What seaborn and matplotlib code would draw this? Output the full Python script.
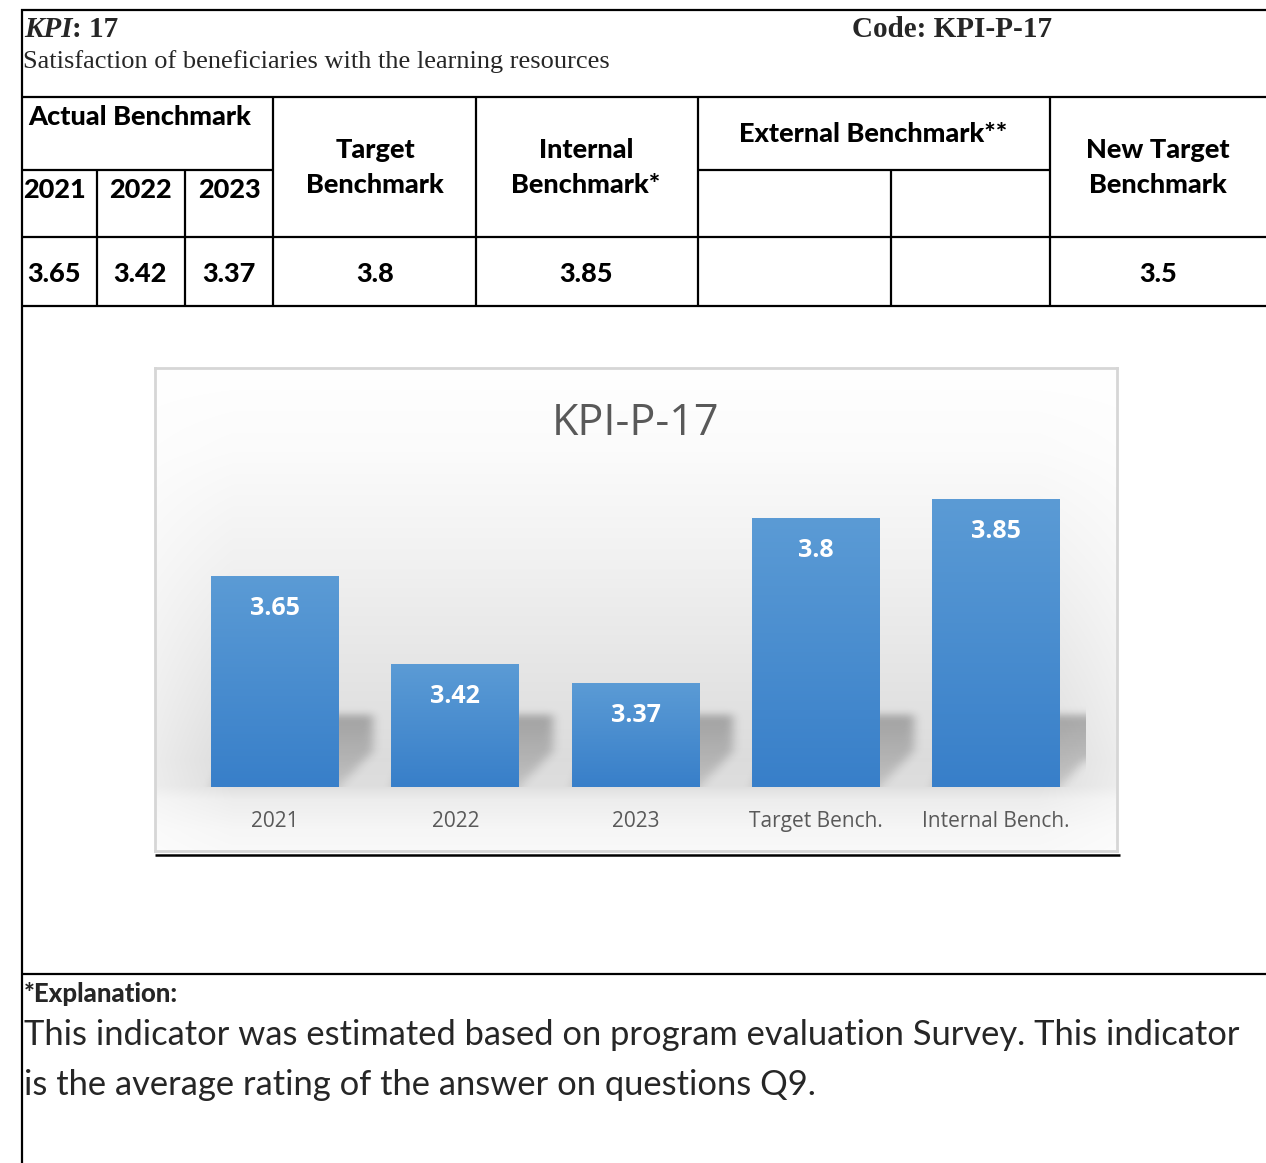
import numpy as np
import pandas as pd
import matplotlib
matplotlib.use("Agg")
import matplotlib.pyplot as plt
import seaborn as sns
from matplotlib.path import Path

# ---------------- data ----------------
categories = ["2021", "2022", "2023", "Target Bench.", "Internal Bench."]
values = [3.65, 3.42, 3.37, 3.8, 3.85]
years = ["2021", "2022", "2023"]
actual_values = [3.65, 3.42, 3.37]
target_benchmark = 3.8
internal_benchmark = 3.85
new_target_benchmark = 3.5
chart_title = "KPI-P-17"
kpi_number = "17"
kpi_code = "Code: KPI-P-17"
kpi_name = "Satisfaction of beneficiaries with the learning resources"
explanation_title = "*Explanation:"
explanation_lines = [
    "This indicator was estimated based on program evaluation Survey. This indicator",
    "is the average rating of the answer on questions Q9.",
]

# ---------------- setup ----------------
W, H = 1266, 1163
DPI = 100
sns.set_theme(style="white")
plt.rcParams["font.family"] = ["Lato", "DejaVu Sans"]
SERIF = ["Liberation Serif", "DejaVu Serif"]
SANS = ["Lato", "DejaVu Sans"]
CHART = ["Open Sans", "DejaVu Sans"]

fig = plt.figure(figsize=(W / DPI, H / DPI), dpi=DPI)
fig.patch.set_facecolor("white")


def fig_rect(x0, y0, x1, y1):
    return [x0 / W, 1 - y1 / H, (x1 - x0) / W, (y1 - y0) / H]


doc = fig.add_axes([0, 0, 1, 1], zorder=0)
doc.set_xlim(0, W)
doc.set_ylim(H, 0)
doc.axis("off")

LW = 1.6


def hline(y, x0, x1, lw=LW):
    doc.plot([x0, x1], [y, y], color="black", lw=lw, solid_capstyle="butt")


def vline(x, y0, y1, lw=LW):
    doc.plot([x, x], [y0, y1], color="black", lw=lw, solid_capstyle="butt")


# table grid
hline(10, 21, W)
hline(97, 21, W)
hline(170, 21, 273)
hline(170, 698, 1050)
hline(237, 21, W)
hline(306, 21, W)
hline(974, 21, W)
vline(22, 9, H)
vline(97, 170, 306)
vline(185, 170, 306)
vline(273, 97, 306)
vline(476, 97, 306)
vline(698, 97, 306)
vline(891, 170, 306)
vline(1050, 97, 306)

# header texts
t1 = doc.text(24, 37, "KPI", family=SERIF, weight="bold", style="italic",
              size=21, va="baseline", ha="left")
doc.annotate(": " + kpi_number, xy=(1, 0), xycoords=t1, va="bottom", ha="left",
             family=SERIF, weight="bold", size=21)
doc.text(852, 37, kpi_code, family=SERIF, weight="bold", size=21, va="baseline", ha="left")
doc.text(23, 68, kpi_name, family=SERIF, size=19, va="baseline", ha="left")

hdr = dict(family=SANS, weight="black", size=19.5, ha="center", va="baseline", color="black")
doc.text(140, 125, "Actual Benchmark", **hdr)
col_centers = [54, 140, 229]
for xc, yr in zip(col_centers, years):
    doc.text(xc, 198, yr, **hdr)
doc.text(375, 158, "Target", **hdr)
doc.text(375, 193, "Benchmark", **hdr)
doc.text(586, 158, "Internal", **hdr)
doc.text(586, 193, "Benchmark*", **hdr)
doc.text(873, 142, "External Benchmark**", **hdr)
doc.text(1158, 158, "New Target", **hdr)
doc.text(1158, 193, "Benchmark", **hdr)
for xc, v in zip(col_centers, actual_values):
    doc.text(xc, 282, f"{v:g}", **hdr)
doc.text(375, 282, f"{target_benchmark:g}", **hdr)
doc.text(586, 282, f"{internal_benchmark:g}", **hdr)
doc.text(1158, 282, f"{new_target_benchmark:g}", **hdr)

# explanation
doc.text(24, 1002, explanation_title, family=SANS, weight="black", size=18.5,
         ha="left", va="baseline")
doc.text(24, 1045, explanation_lines[0], family=SANS, size=24.8, ha="left", va="baseline")
doc.text(24, 1095, explanation_lines[1], family=SANS, size=24.8, ha="left", va="baseline")

# black rule under the chart
hline(855, 155, 1120, lw=1.8)

# ---------------- chart background ----------------
CX0, CY0, CX1, CY1 = 155, 368, 1117, 851
bg = fig.add_axes(fig_rect(CX0, CY0, CX1, CY1), zorder=1)
rows = np.arange(CY0, CY1 + 1)
stop_y = [368, 450, 560, 680, 760, 786, 800, 830, 851]
stop_v = [1.0, 0.985, 0.945, 0.895, 0.862, 0.87, 0.93, 0.965, 0.975]
level = np.interp(rows, stop_y, stop_v)
cols = np.linspace(0, 1, 300)
edge = np.clip(np.minimum(cols, 1 - cols) / 0.08, 0, 1)
img = 1 - (1 - level[:, None]) * (0.55 + 0.45 * edge[None, :])
bg.imshow(np.dstack([img, img, img]), aspect="auto", extent=[0, 1, 0, 1], origin="upper",
          interpolation="bilinear")
bg.set_xlim(0, 1)
bg.set_ylim(0, 1)
bg.set_xticks([])
bg.set_yticks([])
for s in bg.spines.values():
    s.set_color("#D6D6D6")
    s.set_linewidth(2.0)
bg.text(0.5, 1 - (424 - CY0) / (CY1 - CY0), chart_title, transform=bg.transAxes,
        ha="center", va="center", size=31, color="#595959", family=CHART)

# ---------------- bars ----------------
AX0, AY0, AX1, AY1 = 185, 450, 1086, 787
ax = fig.add_axes(fig_rect(AX0, AY0, AX1, AY1), zorder=2)
ax.patch.set_alpha(0)
df = pd.DataFrame({"category": categories, "value": values})
sns.barplot(data=df, x="category", y="value", color="#4A8CD0", width=0.71,
            ax=ax, zorder=3, saturation=1)
YMIN = 3.10
YMAX = YMIN + (AY1 - AY0) / 383.0
ax.set_xlim(-0.5, 4.5)
ax.set_ylim(YMIN, YMAX)

NX, NY = AX1 - AX0, AY1 - AY0
px_x = NX / 5.0
px_y = NY / (YMAX - YMIN)
dx = 34 / px_x
sh = 72 / px_y

top_c = np.array([91, 155, 213]) / 255
bot_c = np.array([56, 127, 201]) / 255
tt = np.linspace(0, 1, 100)[:, None]
bar_grad = (top_c[None, :] * (1 - tt) + bot_c[None, :] * tt)[:, None, :]

# soft shadow layer on pixel grid
gx = -0.5 + (np.arange(NX) + 0.5) / px_x
gy = YMAX - (np.arange(NY) + 0.5) / px_y
GX, GY = np.meshgrid(gx, gy)
pts = np.column_stack([GX.ravel(), GY.ravel()])
mask = np.zeros(GX.shape)

bars = list(ax.patches)
for p in bars:
    x0 = p.get_x()
    w = p.get_width()
    xr = x0 + w
    verts = [(xr, YMIN), (xr + dx, YMIN + 0.5 * sh), (xr + dx, YMIN + sh),
             (x0 + dx, YMIN + sh), (x0, YMIN)]
    inside = Path(verts).contains_points(pts).reshape(GX.shape)
    mask = np.maximum(mask, inside.astype(float))


def blur1d(a, sigma, axis):
    r = int(3 * sigma)
    k = np.exp(-0.5 * (np.arange(-r, r + 1) / sigma) ** 2)
    k /= k.sum()
    return np.apply_along_axis(lambda m: np.convolve(np.pad(m, r, mode="edge"), k, mode="valid"), axis, a)


soft = blur1d(blur1d(mask, 5.0, 1), 4.0, 0)
vert = np.clip((GY - YMIN) / sh, 0, 1)
alpha = soft * (0.12 + 0.16 * vert)
shadow = np.zeros((NY, NX, 4))
shadow[..., 3] = alpha
ax.imshow(shadow, extent=[-0.5, 4.5, YMIN, YMAX], aspect="auto", origin="upper",
          zorder=2.5, interpolation="bilinear")

for p in bars:
    x0 = p.get_x()
    w = p.get_width()
    top = p.get_y() + p.get_height()
    p.set_facecolor("none")
    p.set_edgecolor("none")
    ax.imshow(bar_grad, extent=[x0, x0 + w, YMIN, top], aspect="auto", origin="upper",
              zorder=3, interpolation="bilinear")

for i, v in enumerate(values):
    ax.annotate(f"{v:g}", xy=(i, v), xytext=(0, -23), textcoords="offset points",
                ha="center", va="center", color="white", weight="bold", size=18,
                family=CHART, zorder=5)

ax.set_xlim(-0.5, 4.5)
ax.set_ylim(YMIN, YMAX)
ax.set_yticks([])
ax.set_xlabel("")
ax.set_ylabel("")
for s in ax.spines.values():
    s.set_visible(False)
ax.tick_params(axis="x", length=0, pad=17, labelsize=15, labelcolor="#595959")
for lbl in ax.get_xticklabels():
    lbl.set_fontfamily(CHART)

fig.savefig("out.png", dpi=DPI, facecolor="white")
